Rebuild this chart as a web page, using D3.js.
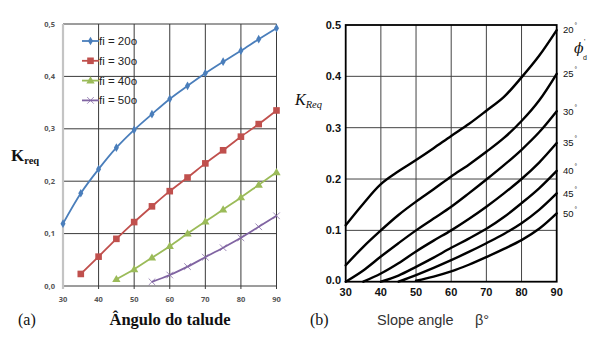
<!DOCTYPE html>
<html>
<head>
<meta charset="utf-8">
<script src="https://cdn.jsdelivr.net/npm/d3@7"></script>
<style>
  html, body { margin: 0; padding: 0; background: #fff; }
  svg { display: block; }
</style>
</head>
<body>
<svg id="chart" width="600" height="338"></svg>
<script>
// Slope angles (degrees) shared by both panels
const slopeAngles = [30, 35, 40, 45, 50, 55, 60, 65, 70, 75, 80, 85, 90];

// Panel (a): K_req per friction angle (null = no value)
const fi20 = [0.119, 0.177, 0.223, 0.264, 0.298, 0.328, 0.357, 0.382, 0.406, 0.428, 0.449, 0.471, 0.492];
const fi30 = [null, 0.023, 0.056, 0.090, 0.122, 0.152, 0.181, 0.207, 0.234, 0.259, 0.285, 0.309, 0.335];
const fi40 = [null, null, null, 0.013, 0.032, 0.054, 0.076, 0.100, 0.123, 0.146, 0.169, 0.193, 0.217];
const fi50 = [null, null, null, null, null, 0.008, 0.021, 0.037, 0.055, 0.073, 0.092, 0.113, 0.134];
const legendLabelsA = ["fi = 20o", "fi = 30o", "fi = 40o", "fi = 50o"];

// Panel (b): design chart curves, phi'_d = 20..50
const phi20 = [0.110, 0.152, 0.190, 0.215, 0.237, 0.260, 0.284, 0.307, 0.333, 0.360, 0.398, 0.440, 0.490];
const phi25 = [0.032, 0.068, 0.100, 0.130, 0.156, 0.180, 0.205, 0.228, 0.253, 0.280, 0.313, 0.353, 0.405];
const phi30 = [0.000, 0.022, 0.049, 0.075, 0.100, 0.123, 0.146, 0.172, 0.199, 0.227, 0.257, 0.291, 0.332];
const phi35 = [null, 0.000, 0.016, 0.036, 0.059, 0.080, 0.100, 0.122, 0.146, 0.172, 0.200, 0.232, 0.270];
const phi40 = [null, null, 0.000, 0.012, 0.029, 0.047, 0.066, 0.084, 0.103, 0.126, 0.153, 0.182, 0.216];
const phi45 = [null, null, null, 0.000, 0.013, 0.027, 0.042, 0.058, 0.075, 0.093, 0.114, 0.140, 0.172];
const phi50 = [null, null, null, null, 0.002, 0.010, 0.020, 0.033, 0.048, 0.064, 0.081, 0.103, 0.133];
const phiLabels = ["20", "25", "30", "35", "40", "45", "50"];

const xTicks = [30, 40, 50, 60, 70, 80, 90];
const yTicks = [0, 0.1, 0.2, 0.3, 0.4, 0.5];

const svg = d3.select("#chart");

// ---------- Panel (a) ----------
const xA = d3.scaleLinear().domain([30, 90]).range([63, 276.5]);
const yA = d3.scaleLinear().domain([0, 0.5]).range([286, 24]);
const gA = svg.append("g");

// grid
gA.selectAll(".vg").data(xTicks.slice(1)).join("line")
  .attr("x1", d => xA(d)).attr("x2", d => xA(d))
  .attr("y1", yA(0.5)).attr("y2", yA(0) + 3)
  .attr("stroke", "#3a3a3a").attr("stroke-width", 1);
gA.selectAll(".hg").data(yTicks).join("line")
  .attr("x1", xA(30)).attr("x2", xA(90))
  .attr("y1", d => yA(d)).attr("y2", d => yA(d))
  .attr("stroke", "#3a3a3a").attr("stroke-width", 1);
// value axis line
gA.append("line")
  .attr("x1", xA(30)).attr("x2", xA(30))
  .attr("y1", yA(0.5)).attr("y2", yA(0) + 3)
  .attr("stroke", "#c4c4c4").attr("stroke-width", 2.2);

// tick labels
gA.selectAll(".yl").data(yTicks).join("text")
  .attr("x", 55).attr("y", d => yA(d)).attr("dy", "0.35em")
  .attr("text-anchor", "end")
  .attr("font-family", "Open Sans, sans-serif").attr("font-size", 7.5).attr("font-weight", "bold")
  .attr("fill", "#555")
  .text(d => d.toFixed(1).replace(".", ","));
gA.selectAll(".xl").data(xTicks).join("text")
  .attr("x", d => xA(d)).attr("y", 299).attr("dy", "0.35em")
  .attr("text-anchor", "middle")
  .attr("font-family", "Open Sans, sans-serif").attr("font-size", 7.5).attr("font-weight", "bold")
  .attr("fill", "#555")
  .text(d => d);

const seriesA = [
  { vals: fi20, color: "#4a7ebb", marker: "diamond" },
  { vals: fi30, color: "#c0504d", marker: "square" },
  { vals: fi40, color: "#9bbb59", marker: "triangle" },
  { vals: fi50, color: "#8064a2", marker: "cross" }
];

function drawMarker(g, type, x, y, color) {
  if (type === "diamond") {
    g.append("path").attr("d", d3.symbol(d3.symbolDiamond, 22)())
      .attr("transform", `translate(${x},${y})`).attr("fill", color);
  } else if (type === "square") {
    g.append("rect").attr("x", x - 3.3).attr("y", y - 3.3).attr("width", 6.6).attr("height", 6.6)
      .attr("fill", color);
  } else if (type === "triangle") {
    g.append("path").attr("d", d3.symbol(d3.symbolTriangle, 30)())
      .attr("transform", `translate(${x},${y + 0.5})`).attr("fill", color);
  } else {
    // stroked cross
    g.append("path").attr("d", d3.symbol(d3.symbolTimes, 30)())
      .attr("transform", `translate(${x},${y})`)
      .attr("fill", "none").attr("stroke", color).attr("stroke-width", 1).attr("opacity", 0.75);
  }
}

const lineA = d3.line()
  .x(d => xA(d[0])).y(d => yA(d[1]))
  .curve(d3.curveMonotoneX);

seriesA.forEach(s => {
  const pts = slopeAngles.map((a, i) => [a, s.vals[i]]).filter(d => d[1] != null);
  gA.append("path").datum(pts).attr("d", lineA)
    .attr("fill", "none").attr("stroke", s.color).attr("stroke-width", 1.8);
  pts.forEach(p => drawMarker(gA, s.marker, xA(p[0]), yA(p[1]), s.color));
});

// legend
seriesA.forEach((s, i) => {
  const y = 41 + i * 19.8;
  gA.append("line").attr("x1", 82).attr("x2", 99).attr("y1", y).attr("y2", y)
    .attr("stroke", s.color).attr("stroke-width", 1.8);
  drawMarker(gA, s.marker, 90.5, y, s.color);
  gA.append("text").attr("x", 99).attr("y", y).attr("dy", "0.35em")
    .attr("font-family", "Liberation Sans, Arial, sans-serif").attr("font-size", 11.5)
    .attr("fill", "#222").text(legendLabelsA[i]);
});

// axis titles
const kA = gA.append("text").attr("x", 11).attr("y", 161)
  .attr("font-family", "Liberation Serif, serif").attr("font-weight", "bold").attr("fill", "#111");
kA.append("tspan").attr("font-size", 17).text("K");
kA.append("tspan").attr("font-size", 10.5).attr("dy", 3).text("req");

gA.append("text").attr("x", 18).attr("y", 325)
  .attr("font-family", "Liberation Serif, serif").attr("font-size", 16).attr("fill", "#111")
  .text("(a)");
gA.append("text").attr("x", 170).attr("y", 325).attr("text-anchor", "middle")
  .attr("font-family", "Liberation Serif, serif").attr("font-size", 16.5).attr("font-weight", "bold")
  .attr("fill", "#111").text("Ângulo do talude");

// ---------- Panel (b) ----------
const xB = d3.scaleLinear().domain([30, 90]).range([345.7, 556.7]);
const yB = d3.scaleLinear().domain([0, 0.5]).range([281.7, 25]);
const gB = svg.append("g");

gB.selectAll(".vg").data(xTicks.slice(1, -1)).join("line")
  .attr("x1", d => xB(d)).attr("x2", d => xB(d))
  .attr("y1", yB(0.5)).attr("y2", yB(0))
  .attr("stroke", "#444").attr("stroke-width", 1);
gB.selectAll(".hg").data(yTicks.slice(1, -1)).join("line")
  .attr("x1", xB(30)).attr("x2", xB(90))
  .attr("y1", d => yB(d)).attr("y2", d => yB(d))
  .attr("stroke", "#444").attr("stroke-width", 1);

const phiSeries = [phi20, phi25, phi30, phi35, phi40, phi45, phi50];
const lineB = d3.line()
  .x(d => xB(d[0])).y(d => yB(d[1]))
  .curve(d3.curveCatmullRom.alpha(0.5));

phiSeries.forEach(vals => {
  const pts = slopeAngles.map((a, i) => [a, vals[i]]).filter(d => d[1] != null);
  gB.append("path").datum(pts).attr("d", lineB)
    .attr("fill", "none").attr("stroke", "#000").attr("stroke-width", 2.4)
    .attr("stroke-linecap", "round");
});

// frame
gB.append("rect")
  .attr("x", xB(30)).attr("y", yB(0.5))
  .attr("width", xB(90) - xB(30)).attr("height", yB(0) - yB(0.5))
  .attr("fill", "none").attr("stroke", "#000").attr("stroke-width", 1.8);

// tick labels
gB.selectAll(".yl").data(yTicks).join("text")
  .attr("x", 341).attr("y", d => yB(d) - (d === 0 ? 2 : 0)).attr("dy", "0.35em")
  .attr("text-anchor", "end")
  .attr("font-family", "Liberation Sans, Arial, sans-serif").attr("font-size", 11).attr("font-weight", "bold")
  .attr("fill", "#111")
  .text(d => d.toFixed(1));
gB.selectAll(".xl").data(xTicks).join("text")
  .attr("x", d => xB(d)).attr("y", 292).attr("dy", "0.35em")
  .attr("text-anchor", "middle")
  .attr("font-family", "Liberation Sans, Arial, sans-serif").attr("font-size", 11).attr("font-weight", "bold")
  .attr("fill", "#111")
  .text(d => d);

// curve labels at the right edge
phiSeries.forEach((vals, i) => {
  const t = gB.append("text").attr("x", 563).attr("y", yB(vals[vals.length - 1])).attr("dy", "0.35em")
    .attr("font-family", "Liberation Sans, Arial, sans-serif").attr("font-size", 9.5).attr("fill", "#111");
  t.append("tspan").text(phiLabels[i]);
  t.append("tspan").attr("font-size", 6.5).attr("dx", 1).attr("dy", -5).text("°");
});

// phi'_d symbol
gB.append("text").attr("x", 574).attr("y", 53)
  .attr("font-family", "DejaVu Serif, serif").attr("font-style", "italic")
  .attr("font-size", 14).attr("fill", "#111").text("ϕ");
gB.append("text").attr("x", 584).attr("y", 44)
  .attr("font-family", "Liberation Sans, sans-serif")
  .attr("font-size", 7).attr("fill", "#111").text("'");
gB.append("text").attr("x", 583).attr("y", 60)
  .attr("font-family", "Liberation Sans, sans-serif")
  .attr("font-size", 7).attr("fill", "#111").text("d");

// axis titles
const kB = gB.append("text").attr("x", 295).attr("y", 105)
  .attr("font-family", "Liberation Serif, serif").attr("font-style", "italic").attr("fill", "#111");
kB.append("tspan").attr("font-size", 16).text("K");
kB.append("tspan").attr("font-size", 10.5).attr("dy", 3).text("Req");

gB.append("text").attr("x", 310).attr("y", 325)
  .attr("font-family", "Liberation Serif, serif").attr("font-size", 16).attr("fill", "#111")
  .text("(b)");
gB.append("text").attr("x", 377).attr("y", 325)
  .attr("font-family", "Liberation Sans, Arial, sans-serif").attr("font-size", 14.5).attr("fill", "#333")
  .text("Slope angle");
gB.append("text").attr("x", 475).attr("y", 325)
  .attr("font-family", "Liberation Sans, Arial, sans-serif").attr("font-size", 14.5).attr("fill", "#333")
  .text("β°");
</script>
</body>
</html>
